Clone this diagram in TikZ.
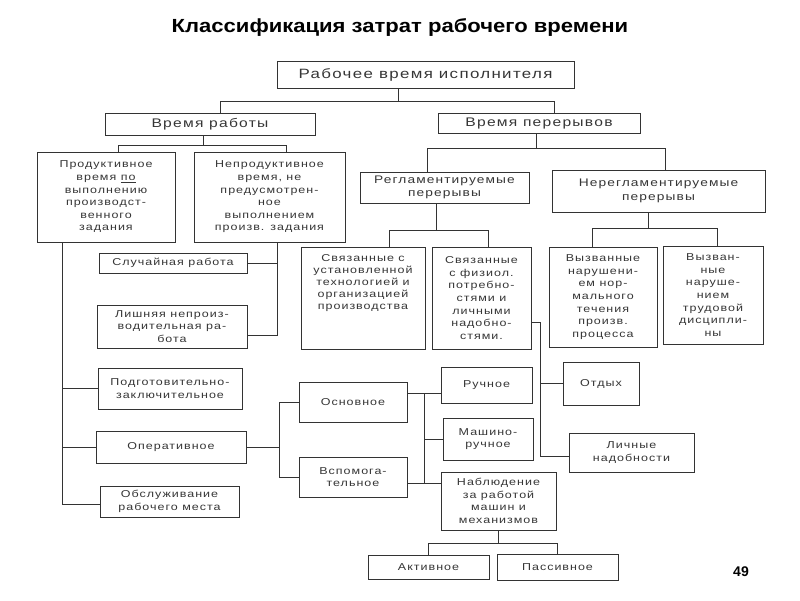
\documentclass[tikz,border=0pt]{standalone}
\usepackage{fontspec}
\setmainfont{Liberation Sans}
\newfontfamily\bxf[LetterSpace=10,FakeStretch=1.25]{Liberation Sans}
\newfontfamily\ttlf[FakeStretch=1.16]{Liberation Sans}
\usetikzlibrary{calc}
\definecolor{linec}{HTML}{333333}
\definecolor{txtc}{HTML}{363636}
\newcommand\bxnode[7][]{%
  \pgfmathsetmacro\cx{(#3+#5)/2}\pgfmathsetmacro\cy{(#4+#6)/2}%
  \pgfmathsetmacro\ww{#5-#3}\pgfmathsetmacro\hh{#6-#4}%
  \node[bx,minimum width=\ww pt,minimum height=\hh pt,#1] (#2) at (\cx,\cy) {#7};}
\begin{document}
\begin{tikzpicture}[x=1pt,y=-1pt,
  bx/.style={draw=linec, line width=1pt, inner sep=0pt, align=center, text=txtc,
    font=\bxf\fontsize{10}{12.6}\selectfont},
  big/.style={font=\bxf\fontsize{13.5}{16}\selectfont},
  mid/.style={font=\bxf\fontsize{12.5}{15}\selectfont},
  sec/.style={font=\bxf\fontsize{11}{13.5}\selectfont},
  lbl/.style={inner sep=0pt, align=center, text=txtc, font=\bxf\fontsize{10}{12}\selectfont},
  ln/.style={draw=linec, line width=0.9pt}]
\useasboundingbox[fill=white] (0,0) rectangle (800,600);

\node[font=\ttlf\bfseries\fontsize{19}{22}\selectfont] (title) at (400,28) {Классификация затрат рабочего времени};
\node[font=\bfseries\fontsize{14}{16}\selectfont] (pg) at (741,572) {49};

\bxnode[big]{root}{277}{61}{574}{88}{Рабочее время исполнителя}
\bxnode[mid]{work}{105}{113}{315}{135}{Время работы}
\bxnode[mid]{brk}{438}{113}{640}{133}{Время перерывов}

\bxnode{prod}{37}{152}{175}{242}{Продуктивное\\время \underline{по}\\выполнению\\производст-\\венного\\задания}
\bxnode{unprod}{194}{152}{345}{242}{Непродуктивное\\время, не\\предусмотрен-\\ное\\выполнением\\произв. задания}
\bxnode{sluch}{99}{253}{247}{273}{Случайная работа}
\bxnode{lish}{97}{305}{247}{348}{Лишняя непроиз-\\водительная ра-\\бота}
\bxnode{podg}{98}{368}{242}{409}{Подготовительно-\\заключительное}
\bxnode{oper}{96}{431}{246}{463}{Оперативное}
\bxnode{obsl}{100}{486}{239}{517}{Обслуживание\\рабочего места}

\bxnode[sec]{regl}{360}{172}{529}{203}{Регламентируемые\\перерывы}
\bxnode[sec]{nereg}{552}{170}{765}{212}{Нерегламентируемые\\перерывы}
\bxnode[label={[lbl, anchor=north, yshift=-8pt]north:{Связанные с\\установленной\\технологией и\\организацией\\производства}}]{sv1}{301}{247}{425}{349}{}
\bxnode{sv2}{432}{247}{531}{349}{Связанные\\с физиол.\\потребно-\\стями и\\личными\\надобно-\\стями.}
\bxnode{vyz1}{549}{247}{657}{347}{Вызванные\\нарушени-\\ем нор-\\мального\\течения\\произв.\\процесса}
\bxnode{vyz2}{663}{246}{763}{344}{Вызван-\\ные\\наруше-\\нием\\трудовой\\дисципли-\\ны}

\bxnode{osn}{299}{382}{407}{422}{Основное}
\bxnode{vsp}{299}{457}{407}{497}{Вспомога-\\тельное}
\bxnode{ruch}{441}{367}{532}{403}{Ручное}
\bxnode{mash}{443}{418}{533}{460}{Машино-\\ручное}
\bxnode{nabl}{441}{472}{556}{530}{Наблюдение\\за работой\\машин и\\механизмов}
\bxnode{otd}{563}{362}{639}{405}{Отдых}
\bxnode{lich}{569}{433}{694}{472}{Личные\\надобности}
\bxnode{akt}{368}{555}{489}{579}{Активное}
\bxnode{pas}{497}{554}{618}{580}{Пассивное}

% connectors
\draw[ln] ([xshift=-27.5pt]root.south) -- ++(0,13) coordinate (jr);
\draw[ln] ([xshift=10pt]work.north) |- (jr) -| ([xshift=15pt]brk.north);
\draw[ln] ([xshift=-7pt]work.south) -- ++(0,10) coordinate (jw);
\draw[ln] ([xshift=12pt]prod.north) |- (jw) -| ([xshift=17pt]unprod.north);
\draw[ln] ([xshift=7.5pt]unprod.south) coordinate (ju) |- ([yshift=-8.5pt]lish.east);
\draw[ln] (sluch.east) -- (sluch.east -| ju);
\draw[ln] ([xshift=-44pt]prod.south) coordinate (jp) |- ([yshift=-2.5pt]obsl.west);
\draw[ln] (podg.west) -- (podg.west -| jp);
\draw[ln] (oper.west) -- (oper.west -| jp);
\draw[ln] (oper.east) -- ++(33,0) coordinate (jo);
\draw[ln] (osn.west) -| (jo) |- (vsp.west);
\coordinate (jf1) at (424,393);
\coordinate (jf2) at (424,483);
\draw[ln] (osn.east |- jf1) -- (ruch.west |- jf1);
\draw[ln] (jf1) -- (jf2);
\draw[ln] (mash.west -| jf1) -- (mash.west);
\draw[ln] (vsp.east |- jf2) -- (nabl.west |- jf2);
\draw[ln] (nabl.south) -- ++(0,13) coordinate (jn);
\draw[ln] (akt.north) |- (jn) -| (pas.north);
\draw[ln] ([xshift=-3pt]brk.south) -- ++(0,15) coordinate (jb);
\draw[ln] ([xshift=-17pt]regl.north) |- (jb) -| ([xshift=6.5pt]nereg.north);
\draw[ln] ([xshift=-8pt]regl.south) -- ++(0,27) coordinate (jg);
\draw[ln] ([xshift=26pt]sv1.north) |- (jg) -| ([xshift=6.5pt]sv2.north);
\draw[ln] ([xshift=-10.5pt]nereg.south) -- ++(0,16) coordinate (jh);
\draw[ln] ([xshift=-11pt]vyz1.north) |- (jh) -| ([xshift=4pt]vyz2.north);
\coordinate (jk) at (540,322);
\draw[ln] (sv2.east |- jk) -- (jk) |- ([yshift=-3.5pt]lich.west);
\draw[ln] (otd.west) -- (otd.west -| jk);
\end{tikzpicture}
\end{document}
